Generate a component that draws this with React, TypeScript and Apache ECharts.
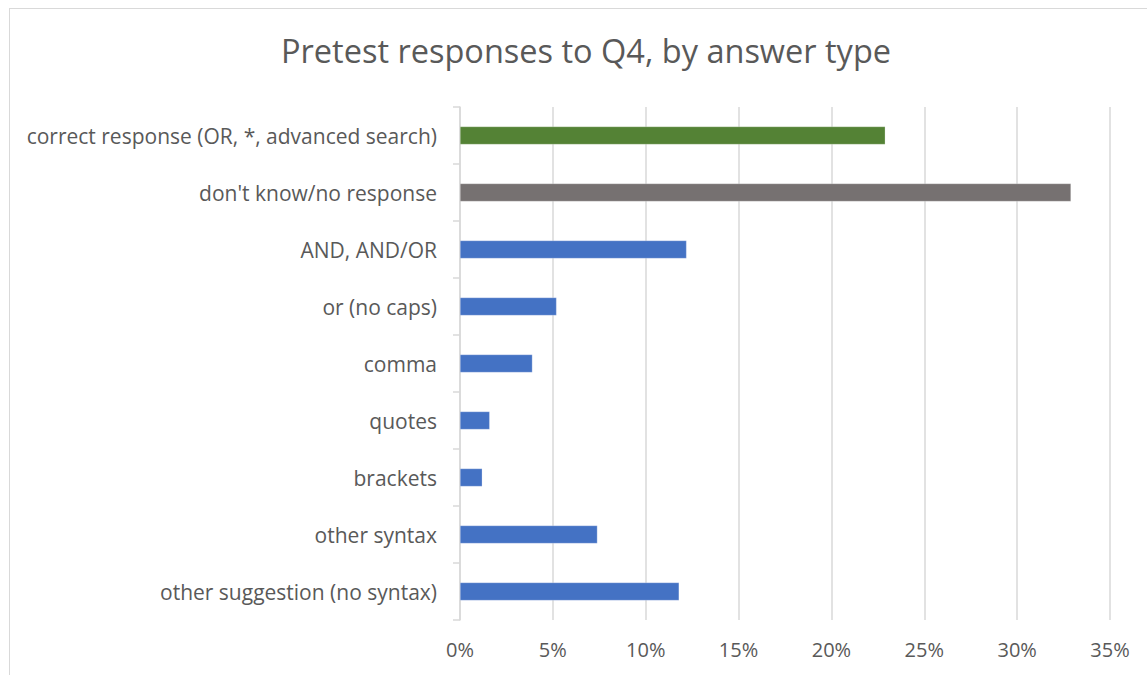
import React, { useEffect, useRef } from "react";
import * as echarts from "echarts";

// Answer categories, top to bottom
const categories: string[] = [
  "correct response (OR, *, advanced search)",
  "don't know/no response",
  "AND, AND/OR",
  "or (no caps)",
  "comma",
  "quotes",
  "brackets",
  "other syntax",
  "other suggestion (no syntax)",
];

// Share of pretest responses, in percent
const shares: number[] = [22.9, 32.9, 12.2, 5.2, 3.9, 1.6, 1.2, 7.4, 11.8];

// Bar colour per category
const barColors: string[] = [
  "#548235",
  "#767171",
  "#4472C4",
  "#4472C4",
  "#4472C4",
  "#4472C4",
  "#4472C4",
  "#4472C4",
  "#4472C4",
];

const xTicks: number[] = [0, 5, 10, 15, 20, 25, 30, 35];

const FONT = "Open Sans";
const TEXT = "#595959";
const GRID = "#d9d9d9";

export default function App() {
  const ref = useRef<HTMLDivElement>(null);

  useEffect(() => {
    if (!ref.current) return;
    const chart = echarts.init(ref.current, undefined, { renderer: "svg" });
    chart.setOption({
      animation: false,
      backgroundColor: "#ffffff",
      title: {
        text: "Pretest responses to Q4, by answer type",
        left: 281,
        top: 34,
        padding: 0,
        textStyle: {
          fontFamily: FONT,
          fontSize: 32.5,
          fontWeight: "normal",
          color: TEXT,
        },
      },
      graphic: [
        {
          type: "line",
          shape: { x1: 9, y1: 8.5, x2: 1147, y2: 8.5 },
          style: { stroke: GRID, lineWidth: 1 },
        },
        {
          type: "line",
          shape: { x1: 9.5, y1: 8, x2: 9.5, y2: 675 },
          style: { stroke: GRID, lineWidth: 1 },
        },
      ],
      grid: {
        left: 460,
        right: 37,
        top: 107,
        bottom: 55,
        containLabel: false,
      },
      xAxis: {
        type: "value",
        min: xTicks[0],
        max: xTicks[xTicks.length - 1],
        interval: 5,
        axisLine: { show: false },
        axisTick: { show: false },
        splitLine: { show: true, lineStyle: { color: GRID, width: 1.5 } },
        axisLabel: {
          formatter: "{value}%",
          fontFamily: FONT,
          fontSize: 20,
          color: TEXT,
          margin: 19,
        },
      },
      yAxis: {
        type: "category",
        data: categories,
        inverse: true,
        axisLine: { show: true, lineStyle: { color: GRID, width: 1.5 } },
        axisTick: { show: true, length: 7, lineStyle: { color: GRID, width: 1.5 } },
        axisLabel: {
          fontFamily: FONT,
          fontSize: 21,
          color: TEXT,
          margin: 23,
        },
      },
      series: [
        {
          type: "bar",
          data: shares.map((v, i) => ({
            value: v,
            itemStyle: { color: barColors[i] },
          })),
          barWidth: 18,
          itemStyle: { borderColor: "rgba(255,255,255,0.5)", borderWidth: 0.5 },
        },
      ],
    });
    return () => chart.dispose();
  }, []);

  return (
    <div
      ref={ref}
      style={{ position: "fixed", left: 0, top: 0, width: 1147, height: 675 }}
    />
  );
}
